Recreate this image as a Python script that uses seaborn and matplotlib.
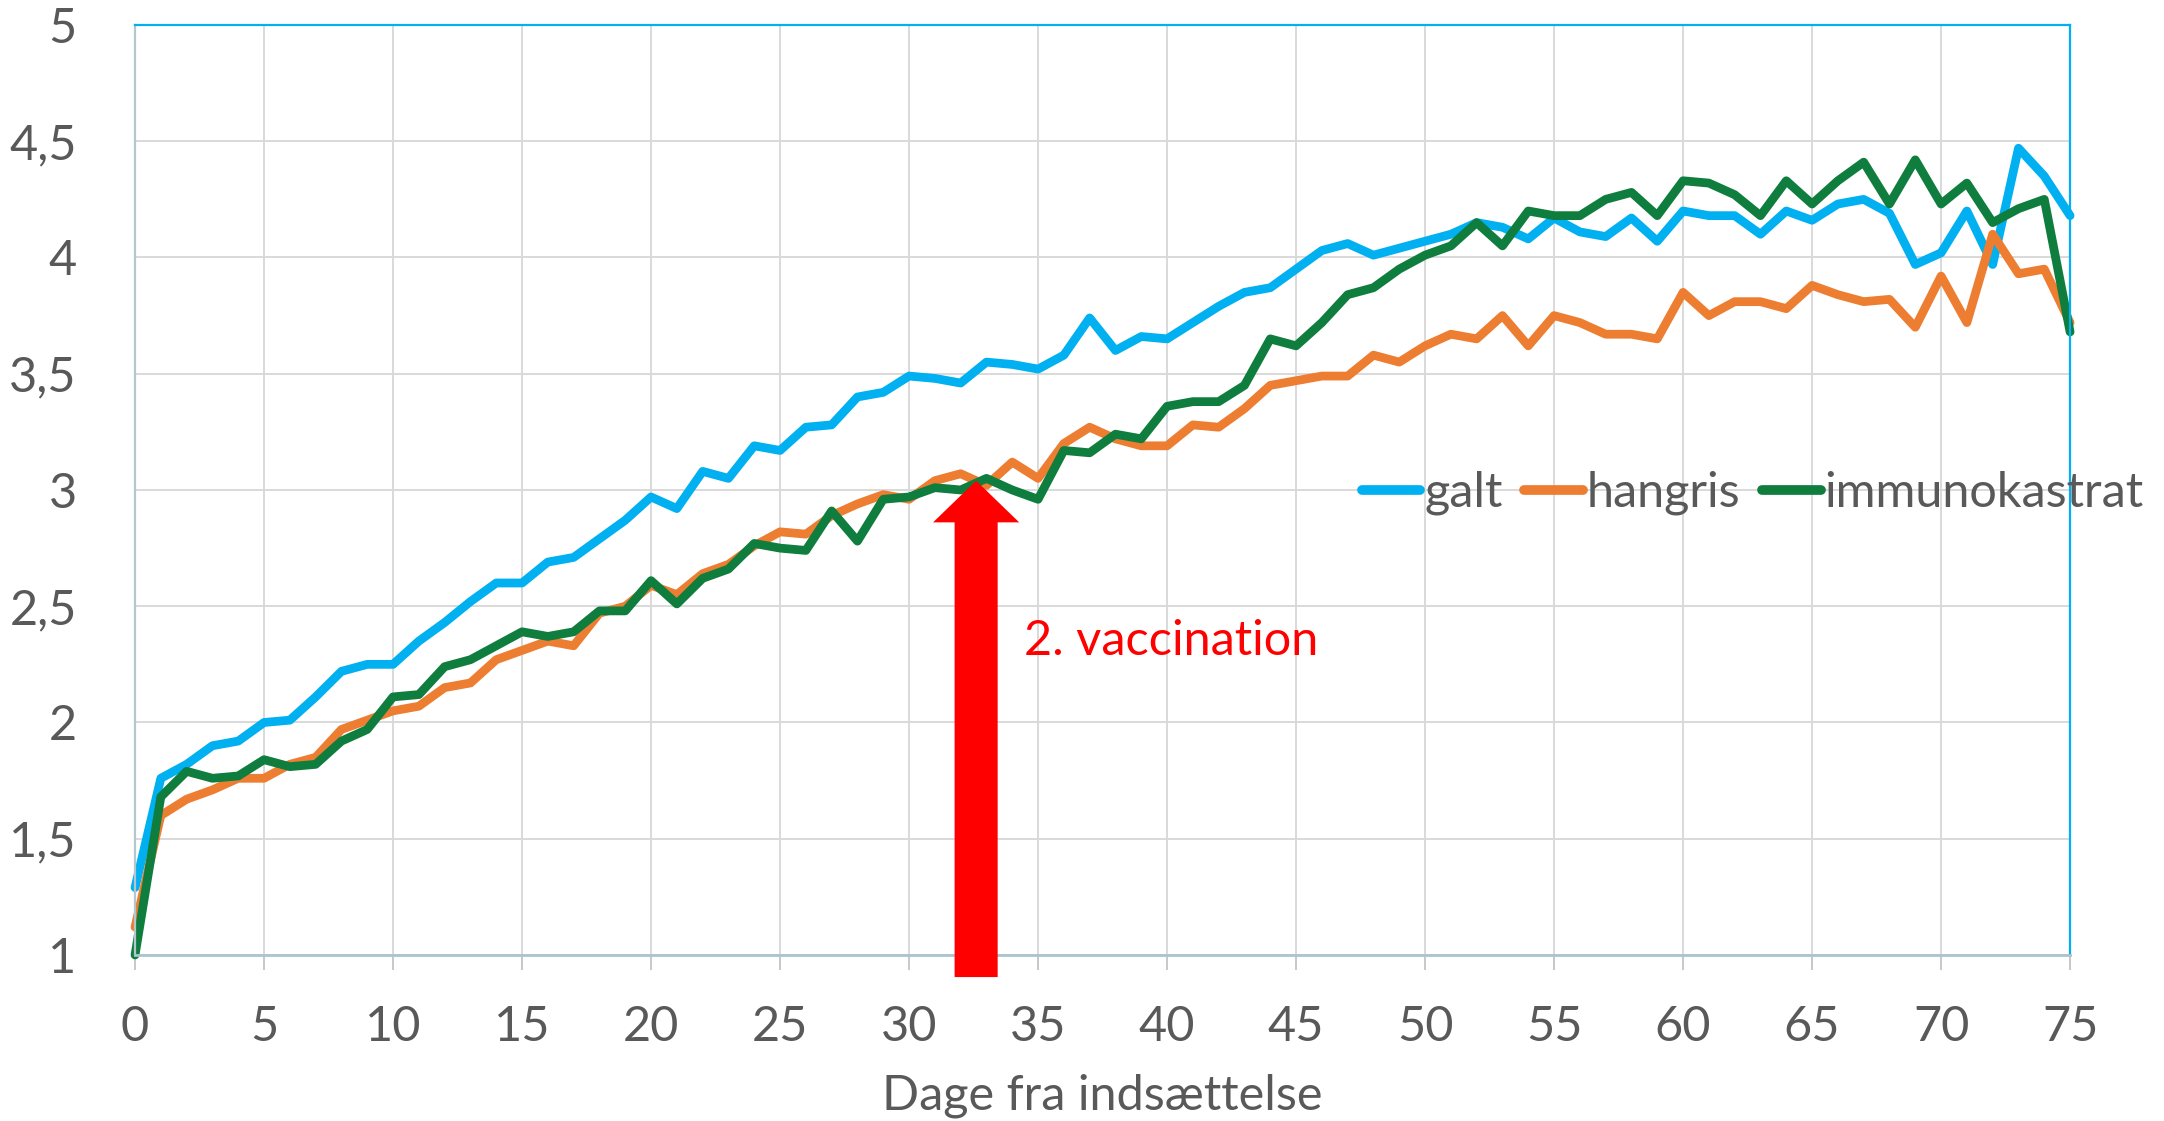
import matplotlib
matplotlib.use("Agg")
import matplotlib.pyplot as plt
import seaborn as sns
import pandas as pd
import numpy as np

# daily values (day 0..75)
days = list(range(76))

galt = [1.29, 1.76, 1.82, 1.90, 1.92, 2.00, 2.01, 2.11, 2.22, 2.25,
        2.25, 2.35, 2.43, 2.52, 2.60, 2.60, 2.69, 2.71, 2.79, 2.87,
        2.97, 2.92, 3.08, 3.05, 3.19, 3.17, 3.27, 3.28, 3.40, 3.42,
        3.49, 3.48, 3.46, 3.55, 3.54, 3.52, 3.58, 3.74, 3.60, 3.66,
        3.65, 3.72, 3.79, 3.85, 3.87, 3.95, 4.03, 4.06, 4.01, 4.04,
        4.07, 4.10, 4.15, 4.13, 4.08, 4.17, 4.11, 4.09, 4.17, 4.07,
        4.20, 4.18, 4.18, 4.10, 4.20, 4.16, 4.23, 4.25, 4.19, 3.97,
        4.02, 4.20, 3.97, 4.47, 4.35, 4.18]

hangris = [1.12, 1.60, 1.67, 1.71, 1.76, 1.76, 1.82, 1.85, 1.97, 2.01,
           2.05, 2.07, 2.15, 2.17, 2.27, 2.31, 2.35, 2.33, 2.47, 2.50,
           2.59, 2.55, 2.64, 2.68, 2.76, 2.82, 2.81, 2.89, 2.94, 2.98,
           2.96, 3.04, 3.07, 3.02, 3.12, 3.05, 3.20, 3.27, 3.22, 3.19,
           3.19, 3.28, 3.27, 3.35, 3.45, 3.47, 3.49, 3.49, 3.58, 3.55,
           3.62, 3.67, 3.65, 3.75, 3.62, 3.75, 3.72, 3.67, 3.67, 3.65,
           3.85, 3.75, 3.81, 3.81, 3.78, 3.88, 3.84, 3.81, 3.82, 3.70,
           3.92, 3.72, 4.10, 3.93, 3.95, 3.72]

immunokastrat = [1.00, 1.68, 1.79, 1.76, 1.77, 1.84, 1.81, 1.82, 1.92, 1.97,
                 2.11, 2.12, 2.24, 2.27, 2.33, 2.39, 2.37, 2.39, 2.48, 2.48,
                 2.61, 2.51, 2.62, 2.66, 2.77, 2.75, 2.74, 2.91, 2.78, 2.96,
                 2.97, 3.01, 3.00, 3.05, 3.00, 2.96, 3.17, 3.16, 3.24, 3.22,
                 3.36, 3.38, 3.38, 3.45, 3.65, 3.62, 3.72, 3.84, 3.87, 3.95,
                 4.01, 4.05, 4.15, 4.05, 4.20, 4.18, 4.18, 4.25, 4.28, 4.18,
                 4.33, 4.32, 4.27, 4.18, 4.33, 4.23, 4.33, 4.41, 4.23, 4.42,
                 4.23, 4.32, 4.15, 4.21, 4.25, 3.68]

series_names = ['galt', 'hangris', 'immunokastrat']
colors = {'galt': '#00B0F0', 'hangris': '#ED7D31', 'immunokastrat': '#0F7D3E'}

x_ticks = list(range(0, 76, 5))
y_ticks = [1, 1.5, 2, 2.5, 3, 3.5, 4, 4.5, 5]
y_tick_labels = ['1', '1,5', '2', '2,5', '3', '3,5', '4', '4,5', '5']

vacc_day = 32.6
vacc_label = '2. vaccination'
x_label = 'Dage fra indsættelse'

df = pd.DataFrame({'dag': days, 'galt': galt, 'hangris': hangris,
                   'immunokastrat': immunokastrat})
df = df.melt(id_vars='dag', var_name='gruppe', value_name='vaerdi')

sns.set_theme(style='whitegrid')
plt.rcParams['font.family'] = ['Lato', 'DejaVu Sans']

fs = 35

fig = plt.figure(figsize=(21.64, 11.21), dpi=100)
ax = fig.add_axes([0.0624, 0.1481, 0.8942, 0.8296])

sns.lineplot(data=df, x='dag', y='vaerdi', hue='gruppe', hue_order=series_names,
             palette=colors, linewidth=6.3, ax=ax, legend=False, clip_on=False,
             solid_joinstyle='round', solid_capstyle='round')

ax.set_xlim(0, 75)
ax.set_ylim(1, 5)
ax.set_xticks(x_ticks)
ax.set_yticks(y_ticks)
ax.set_yticklabels(y_tick_labels)
ax.grid(True, color='#D9D9D9', linewidth=1.4)
ax.set_axisbelow(True)
ax.set_facecolor('white')

for side in ['top', 'right']:
    ax.spines[side].set_color('#00B0F0')
    ax.spines[side].set_linewidth(1.6)
ax.spines['left'].set_color('#B4C7D0')
ax.spines['bottom'].set_color('#A9C4CF')
ax.spines['left'].set_linewidth(1.6)
ax.spines['bottom'].set_linewidth(2)

ax.tick_params(axis='x', which='both', bottom=True, length=11, width=1.4,
               color='#C8C8C8', labelsize=fs, labelcolor='#595959', pad=25)
ax.tick_params(axis='y', which='both', left=False, labelsize=fs,
               labelcolor='#595959', pad=36)

ax.set_xlabel(x_label, fontsize=fs, color='#595959', labelpad=18)
ax.set_ylabel('')

# red arrow marking 2nd vaccination
ax.annotate('', xy=(vacc_day, 3.04), xytext=(vacc_day, 0.905),
            arrowprops=dict(facecolor='#FF0000', edgecolor='none', width=31,
                            headwidth=62, headlength=30, shrink=0),
            annotation_clip=False, zorder=5)
ax.text(34.45, 2.35, vacc_label, color='#FF0000', fontsize=fs, va='center',
        ha='left')

handles = [plt.Line2D([], [], color=colors[n], linewidth=7, solid_capstyle='round')
           for n in series_names]
leg = fig.legend(handles, series_names, loc='center left',
                 bbox_to_anchor=(1362 / 2164, 1 - 493 / 1121), ncol=3,
                 frameon=False, fontsize=fs, handlelength=1.2,
                 handletextpad=0.08, columnspacing=0.45, borderpad=0,
                 borderaxespad=0)
for t in leg.get_texts():
    t.set_color('#595959')

plt.savefig('out.png', dpi=100)
plt.close()
